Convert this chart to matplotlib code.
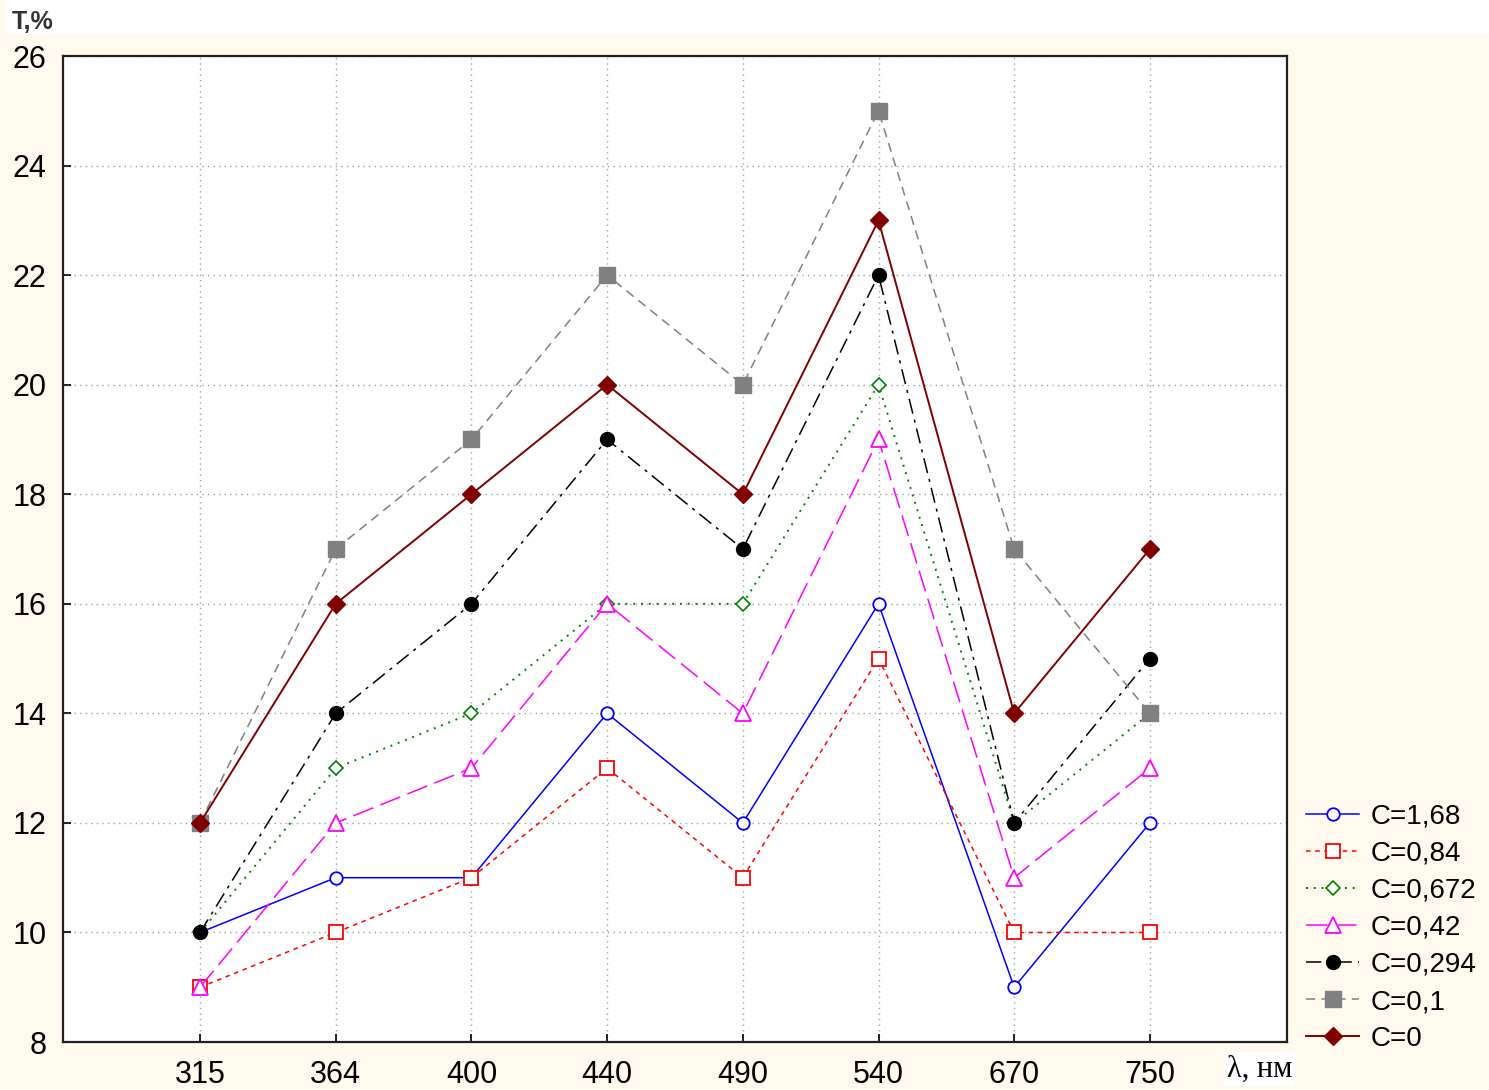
import matplotlib.pyplot as plt
from matplotlib.patches import Rectangle

wavelengths = ["315", "364", "400", "440", "490", "540", "670", "750"]
labels = ["C=1,68", "C=0,84", "C=0,672", "C=0,42", "C=0,294", "C=0,1", "C=0"]
c168 = [10, 11, 11, 14, 12, 16, 9, 12]
c084 = [9, 10, 11, 13, 11, 15, 10, 10]
c0672 = [10, 13, 14, 16, 16, 20, 12, 14]
c042 = [9, 12, 13, 16, 14, 19, 11, 13]
c0294 = [10, 14, 16, 19, 17, 22, 12, 15]
c01 = [12, 17, 19, 22, 20, 25, 17, 14]
c0 = [12, 16, 18, 20, 18, 23, 14, 17]
y_ticks = [8, 10, 12, 14, 16, 18, 20, 22, 24, 26]

bg = "#fff9ee"
fig = plt.figure(figsize=(14.89, 10.90), dpi=100, facecolor=bg)
# white strip along the top
fig.patches.append(Rectangle((0.004, 0.969), 0.996, 0.031, transform=fig.transFigure,
                             facecolor="white", edgecolor="none", zorder=0))
ax = fig.add_axes([0.0423, 0.044, 0.822, 0.9046])
ax.set_facecolor("white")

x = list(range(len(wavelengths)))
lw = 1.1
ms = 8
ax.plot(x, c168, color="#0000ff", lw=lw, ls="-", marker="o", ms=ms + 1, mfc="white", mec="#0000ff", mew=1.3, label=labels[0])
ax.plot(x, c084, color="#ff0000", lw=lw, ls=(0, (3, 3)), marker="s", ms=ms + 2, mfc="white", mec="#ff0000", mew=1.3, label=labels[1])
ax.plot(x, c0672, color="#008000", lw=lw + 0.3, ls=(0, (1, 3)), marker="D", ms=ms - 1, mfc="white", mec="#008000", mew=1.2, label=labels[2])
ax.plot(x, c042, color="#ff00ff", lw=lw, ls=(0, (14, 5)), marker="^", ms=ms + 3, mfc="white", mec="#ff00ff", mew=1.3, label=labels[3])
ax.plot(x, c0294, color="black", lw=lw, ls=(0, (10, 4, 2, 4)), marker="o", ms=ms + 2, mfc="black", mec="black", label=labels[4])
ax.plot(x, c01, color="#808080", lw=lw, ls=(0, (6, 4)), marker="s", ms=ms + 3, mfc="#808080", mec="#808080", label=labels[5])
ax.plot(x, c0, color="#800000", lw=lw + 0.3, ls="-", marker="D", ms=ms + 1, mfc="#800000", mec="#800000", label=labels[6])

ax.set_xlim(-1.01, 8.01)
ax.set_ylim(8, 26)
ax.set_xticks(x)
ax.set_xticklabels(wavelengths)
ax.set_yticks(y_ticks)
ax.grid(True, color="#a0a0a0", ls=(0, (1, 3)), lw=1.0)
ax.tick_params(direction="in", length=6, width=1.2, labelsize=22, pad=13,
               labelfontfamily="Liberation Sans", colors="black")
ax.tick_params(axis="y", pad=12)
for s in ax.spines.values():
    s.set_linewidth(1.6)
    s.set_color("#202020")

fig.text(0.008, 0.969, "T,%", fontsize=18, fontweight="bold", family="Liberation Sans",
         color="#333333", va="bottom", ha="left")
fig.text(0.824, 0.006, "λ, нм", fontsize=22, family="Liberation Serif", va="bottom", ha="left",
         bbox=dict(facecolor="white", edgecolor="none", pad=2))

leg = ax.legend(loc="lower left", bbox_to_anchor=(1.0, -0.03), frameon=False,
                prop={"family": "Liberation Sans", "size": 20}, handlelength=1.9,
                handletextpad=0.4, labelspacing=0.4, borderaxespad=0.3)

fig.savefig("out.png", dpi=100, facecolor=bg)
